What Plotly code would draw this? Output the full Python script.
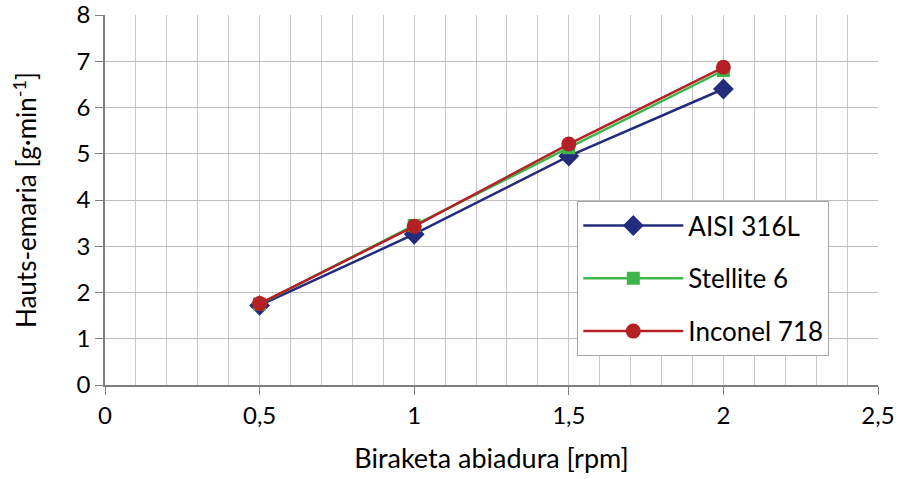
import plotly.graph_objects as go

x_vals = [0.5, 1.0, 1.5, 2.0]
aisi_316l = [1.72, 3.26, 4.95, 6.40]
stellite_6 = [1.75, 3.45, 5.13, 6.80]
inconel_718 = [1.76, 3.43, 5.21, 6.87]

series = [
    ("AISI 316L", aisi_316l, "#232C7C", "diamond", 16),
    ("Stellite 6", stellite_6, "#3DB54A", "square", 13),
    ("Inconel 718", inconel_718, "#B52025", "circle", 15),
]

fig = go.Figure()
for i, (name, vals, color, sym, size) in enumerate(series):
    fig.add_trace(go.Scatter(
        x=x_vals, y=vals, name=name, mode="lines+markers",
        legendgroup=f"g{i}",
        line=dict(color=color, width=2.5),
        marker=dict(symbol=sym, size=size, color=color),
    ))

font_family = "Lato, Open Sans, sans-serif"
fig.update_layout(
    width=898, height=479,
    margin=dict(l=105, r=20, t=15, b=94),
    paper_bgcolor="white", plot_bgcolor="white",
    separators=", ",
    font=dict(family=font_family, color="#000000", size=26),
    legend=dict(
        x=0.611, y=0.497, xanchor="left", yanchor="top",
        bgcolor="white", bordercolor="#A6A6A6", borderwidth=1,
        font=dict(size=26, family=font_family),
        tracegroupgap=16, itemwidth=100, entrywidth=250,
    ),
    xaxis=dict(
        range=[0, 2.5], dtick=0.5, tick0=0, automargin=False,
        showline=True, linecolor="#7F7F7F", linewidth=1.5,
        ticks="outside", ticklen=8, tickcolor="#7F7F7F",
        showgrid=True, gridcolor="#C8C8C8", gridwidth=1,
        minor=dict(dtick=0.1, showgrid=True, gridcolor="#C8C8C8", gridwidth=1),
        tickfont=dict(size=24), ticklabeloverflow="allow",
        title=dict(text="Biraketa abiadura [rpm]", font=dict(size=27), standoff=22),
        zeroline=False,
    ),
    yaxis=dict(
        range=[0, 8], dtick=1, automargin=False,
        showline=True, linecolor="#7F7F7F", linewidth=1.5,
        ticks="outside", ticklen=8, tickcolor="#7F7F7F",
        showgrid=True, gridcolor="#BEBEBE", gridwidth=1,
        tickfont=dict(size=24), ticklabeloverflow="allow",
        title=dict(text="Hauts-emaria [g·min<sup>-1</sup>]", font=dict(size=26), standoff=32),
        zeroline=False,
    ),
)

fig.write_html("out.html", config={"displayModeBar": False},
               post_script="document.body.style.margin='0';")
